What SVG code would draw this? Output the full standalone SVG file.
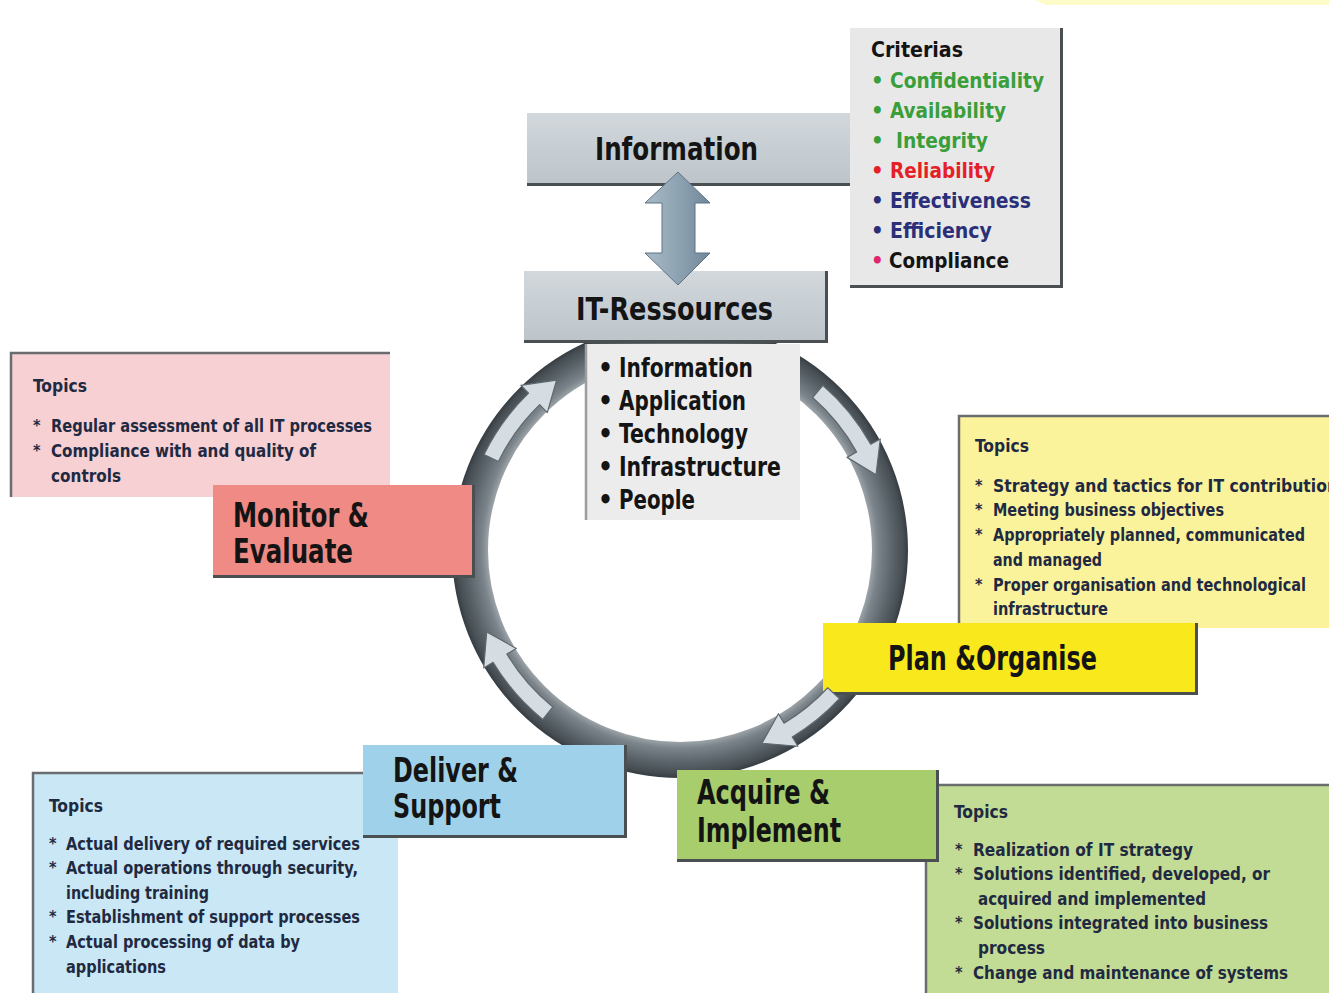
<svg xmlns="http://www.w3.org/2000/svg" xmlns:xlink="http://www.w3.org/1999/xlink" width="1329" height="993" viewBox="0 0 1329 993">
  <style>
    .t { font-family: "DejaVu Sans Condensed", "Liberation Sans Narrow", "DejaVu Sans", sans-serif; font-stretch: condensed; font-weight: bold; }
    .title { font-size: 33px; fill: #141414; }
    .head { font-size: 32px; fill: #141414; }
    .res { font-size: 26px; fill: #141414; }
    .crit { font-size: 22px; }
    .topic { font-size: 17px; fill: #1f2a42; }
    .star { font-size: 16px; fill: #1f2a42; }
    .edge { fill: none; stroke: #4a4f52; }
    .inset { fill: none; stroke: #6a6d70; stroke-width: 2.5; }
    .ringArrow { fill: #d6dde2; stroke: #5e686e; stroke-width: 1.2; stroke-linejoin: round; }
    .green { fill: #3a9e3a; }
    .red { fill: #e51f28; }
    .navy { fill: #2a2f78; }
    .black { fill: #141414; }
  </style>
  <defs>
    <radialGradient id="ringGrad" gradientUnits="userSpaceOnUse" cx="680" cy="550" r="228">
      <stop offset="0.84" stop-color="#9ea6ab"/>
      <stop offset="0.87" stop-color="#7b848a"/>
      <stop offset="0.93" stop-color="#5c656b"/>
      <stop offset="0.98" stop-color="#464e53"/>
      <stop offset="1" stop-color="#363d42"/>
    </radialGradient>
    <linearGradient id="grayBox" x1="0" y1="0" x2="0" y2="1">
      <stop offset="0" stop-color="#d2d8dc"/>
      <stop offset="1" stop-color="#bcc4ca"/>
    </linearGradient>
    <linearGradient id="dblArrow" x1="0" y1="0" x2="1" y2="0">
      <stop offset="0" stop-color="#a9bac6"/>
      <stop offset="0.5" stop-color="#8ea3b2"/>
      <stop offset="1" stop-color="#71889a"/>
    </linearGradient>
    <!-- arc arrows along the cycle, drawn around the origin (0 deg = right, clockwise) -->
    <path id="arc28" d="M218,0 A218,218 0 0 1 204.9,74.6 L215.2,78.3 L185.4,98.6 L179.5,65.3 L189.8,69.1 A202,202 0 0 0 202,0 Z"/>
    <path id="arc24" d="M218,0 A218,218 0 0 1 209.6,60.1 L220.1,63.1 L191.8,85.4 L183.6,52.6 L194.2,55.7 A202,202 0 0 0 202,0 Z"/>
  </defs>

  <rect width="1329" height="993" fill="#ffffff"/>
  <path d="M1035,0 H1329 V5 H1046 Z" fill="#fdfbc8"/>

  <!-- cycle ring -->
  <g id="cycle-ring">
    <circle cx="680" cy="550" r="210" fill="none" stroke="url(#ringGrad)" stroke-width="36"/>
  </g>

  <!-- Information -->
  <g id="information">
    <rect x="527" y="113" width="323" height="73" fill="url(#grayBox)"/>
    <path class="edge" d="M527,184.5 H850" stroke-width="3"/>
    <text class="t head" x="595" y="160" textLength="163" lengthAdjust="spacingAndGlyphs">Information</text>
  </g>

  <!-- Criterias -->
  <g id="criterias">
    <rect x="850" y="28" width="213" height="260" fill="#e8e8e8"/>
    <path class="edge" d="M1061.5,28 V288 M850,286.5 H1063" stroke-width="3"/>
    <text class="t crit black" x="871" y="57" textLength="92" lengthAdjust="spacingAndGlyphs">Criterias</text>
    <text class="t crit green" x="871" y="88">•</text>
    <text class="t crit green" x="890" y="88" textLength="154" lengthAdjust="spacingAndGlyphs">Confidentiality</text>
    <text class="t crit green" x="871" y="118">•</text>
    <text class="t crit green" x="890" y="118" textLength="116" lengthAdjust="spacingAndGlyphs">Availability</text>
    <text class="t crit green" x="871" y="148">•</text>
    <text class="t crit green" x="896" y="148" textLength="92" lengthAdjust="spacingAndGlyphs">Integrity</text>
    <text class="t crit red" x="871" y="178">•</text>
    <text class="t crit red" x="890" y="178" textLength="105" lengthAdjust="spacingAndGlyphs">Reliability</text>
    <text class="t crit navy" x="871" y="208">•</text>
    <text class="t crit navy" x="890" y="208" textLength="141" lengthAdjust="spacingAndGlyphs">Effectiveness</text>
    <text class="t crit navy" x="871" y="238">•</text>
    <text class="t crit navy" x="890" y="238" textLength="102" lengthAdjust="spacingAndGlyphs">Efficiency</text>
    <text class="t crit" x="871" y="268" fill="#e0246e">•</text>
    <text class="t crit black" x="889" y="268" textLength="120" lengthAdjust="spacingAndGlyphs">Compliance</text>
  </g>

  <!-- IT resources -->
  <g id="it-ressources">
    <rect x="524" y="271" width="304" height="72" fill="url(#grayBox)"/>
    <path class="edge" d="M826.5,271 V343 M524,341.5 H828" stroke-width="3"/>
    <text class="t head" x="576" y="320" textLength="197" lengthAdjust="spacingAndGlyphs">IT-Ressources</text>
  </g>

  <g id="resource-list">
    <rect x="585" y="344" width="215" height="176" fill="#ececec"/>
    <path d="M586,344 V520" stroke="#9a9ea1" stroke-width="2.5"/>
    <text class="t res" x="598" y="377">•</text>
    <text class="t res" x="619" y="377" textLength="134" lengthAdjust="spacingAndGlyphs">Information</text>
    <text class="t res" x="598" y="410">•</text>
    <text class="t res" x="619" y="410" textLength="127" lengthAdjust="spacingAndGlyphs">Application</text>
    <text class="t res" x="598" y="443">•</text>
    <text class="t res" x="619" y="443" textLength="129" lengthAdjust="spacingAndGlyphs">Technology</text>
    <text class="t res" x="598" y="476">•</text>
    <text class="t res" x="619" y="476" textLength="162" lengthAdjust="spacingAndGlyphs">Infrastructure</text>
    <text class="t res" x="598" y="509">•</text>
    <text class="t res" x="619" y="509" textLength="76" lengthAdjust="spacingAndGlyphs">People</text>
  </g>

  <!-- Monitor & Evaluate -->
  <g id="monitor-topics">
    <rect x="10" y="352" width="380" height="145" fill="#f6d0d2"/>
    <path class="inset" d="M11,497 V353 H390"/>
    <text class="t topic" x="33" y="392" textLength="54" lengthAdjust="spacingAndGlyphs">Topics</text>
    <text class="t star" x="33" y="431">*</text>
    <text class="t topic" x="51" y="432" textLength="321" lengthAdjust="spacingAndGlyphs">Regular assessment of all IT processes</text>
    <text class="t star" x="33" y="456">*</text>
    <text class="t topic" x="51" y="457" textLength="265" lengthAdjust="spacingAndGlyphs">Compliance with and quality of</text>
    <text class="t topic" x="51" y="482" textLength="70" lengthAdjust="spacingAndGlyphs">controls</text>
  </g>
  <g id="monitor-evaluate">
    <rect x="213" y="485" width="262" height="93" fill="#f08a85"/>
    <path class="edge" d="M473.5,485 V578 M213,576.5 H475" stroke-width="3"/>
    <text class="t title" x="233" y="527" textLength="136" lengthAdjust="spacingAndGlyphs">Monitor &amp;</text>
    <text class="t title" x="233" y="563" textLength="120" lengthAdjust="spacingAndGlyphs">Evaluate</text>
  </g>

  <!-- Plan & Organise -->
  <g id="plan-topics">
    <rect x="958" y="415" width="371" height="213" fill="#fbf29c"/>
    <path class="inset" d="M959,628 V416 H1329"/>
    <text class="t topic" x="975" y="452" textLength="54" lengthAdjust="spacingAndGlyphs">Topics</text>
    <text class="t star" x="975" y="491">*</text>
    <text class="t topic" x="993" y="492" textLength="345" lengthAdjust="spacingAndGlyphs">Strategy and tactics for IT contribution</text>
    <text class="t star" x="975" y="515">*</text>
    <text class="t topic" x="993" y="516" textLength="231" lengthAdjust="spacingAndGlyphs">Meeting business objectives</text>
    <text class="t star" x="975" y="540">*</text>
    <text class="t topic" x="993" y="541" textLength="312" lengthAdjust="spacingAndGlyphs">Appropriately planned, communicated</text>
    <text class="t topic" x="993" y="566" textLength="109" lengthAdjust="spacingAndGlyphs">and managed</text>
    <text class="t star" x="975" y="590">*</text>
    <text class="t topic" x="993" y="591" textLength="313" lengthAdjust="spacingAndGlyphs">Proper organisation and technological</text>
    <text class="t topic" x="993" y="615" textLength="115" lengthAdjust="spacingAndGlyphs">infrastructure</text>
  </g>
  <g id="plan-organise">
    <rect x="823" y="623" width="375" height="72" fill="#f8e81c"/>
    <path class="edge" d="M1196.5,623 V695 M823,693.5 H1198" stroke-width="3"/>
    <text class="t title" x="888" y="670" textLength="209" lengthAdjust="spacingAndGlyphs">Plan &amp;Organise</text>
  </g>

  <!-- Deliver & Support -->
  <g id="deliver-topics">
    <rect x="32" y="772" width="366" height="221" fill="#c9e7f4"/>
    <path class="inset" d="M33,993 V773 H398"/>
    <text class="t topic" x="49" y="812" textLength="54" lengthAdjust="spacingAndGlyphs">Topics</text>
    <text class="t star" x="49" y="849">*</text>
    <text class="t topic" x="66" y="850" textLength="294" lengthAdjust="spacingAndGlyphs">Actual delivery of required services</text>
    <text class="t star" x="49" y="873">*</text>
    <text class="t topic" x="66" y="874" textLength="292" lengthAdjust="spacingAndGlyphs">Actual operations through security,</text>
    <text class="t topic" x="66" y="899" textLength="143" lengthAdjust="spacingAndGlyphs">including training</text>
    <text class="t star" x="49" y="922">*</text>
    <text class="t topic" x="66" y="923" textLength="294" lengthAdjust="spacingAndGlyphs">Establishment of support processes</text>
    <text class="t star" x="49" y="947">*</text>
    <text class="t topic" x="66" y="948" textLength="234" lengthAdjust="spacingAndGlyphs">Actual processing of data by</text>
    <text class="t topic" x="66" y="973" textLength="100" lengthAdjust="spacingAndGlyphs">applications</text>
  </g>
  <g id="deliver-support">
    <rect x="363" y="745" width="264" height="93" fill="#9fd2ea"/>
    <path class="edge" d="M625.5,745 V838 M363,836.5 H627" stroke-width="3"/>
    <text class="t title" x="393" y="782" textLength="125" lengthAdjust="spacingAndGlyphs">Deliver &amp;</text>
    <text class="t title" x="393" y="818" textLength="108" lengthAdjust="spacingAndGlyphs">Support</text>
  </g>

  <!-- Acquire & Implement -->
  <g id="acquire-topics">
    <rect x="925" y="784" width="404" height="209" fill="#c2dc95"/>
    <path class="inset" d="M926,993 V785 H1329"/>
    <text class="t topic" x="954" y="818" textLength="54" lengthAdjust="spacingAndGlyphs">Topics</text>
    <text class="t star" x="955" y="855">*</text>
    <text class="t topic" x="973" y="856" textLength="220" lengthAdjust="spacingAndGlyphs">Realization of IT strategy</text>
    <text class="t star" x="955" y="879">*</text>
    <text class="t topic" x="973" y="880" textLength="297" lengthAdjust="spacingAndGlyphs">Solutions identified, developed, or</text>
    <text class="t topic" x="978" y="905" textLength="228" lengthAdjust="spacingAndGlyphs">acquired and implemented</text>
    <text class="t star" x="955" y="928">*</text>
    <text class="t topic" x="973" y="929" textLength="295" lengthAdjust="spacingAndGlyphs">Solutions integrated into business</text>
    <text class="t topic" x="978" y="954" textLength="67" lengthAdjust="spacingAndGlyphs">process</text>
    <text class="t star" x="955" y="978">*</text>
    <text class="t topic" x="973" y="979" textLength="315" lengthAdjust="spacingAndGlyphs">Change and maintenance of systems</text>
  </g>
  <g id="acquire-implement">
    <rect x="677" y="770" width="262" height="92" fill="#a8cd6c"/>
    <path class="edge" d="M937.5,770 V862 M677,860.5 H939" stroke-width="3"/>
    <text class="t title" x="697" y="804" textLength="133" lengthAdjust="spacingAndGlyphs">Acquire &amp;</text>
    <text class="t title" x="697" y="842" textLength="144" lengthAdjust="spacingAndGlyphs">Implement</text>
  </g>

  <!-- connectors -->
  <g id="connectors">
    <path d="M678,172 L710,203 L695,203 L695,253 L710,253 L678,285 L645,253 L662,253 L662,203 L645,203 Z" fill="url(#dblArrow)" stroke="#5f7383" stroke-width="1"/>
    <use href="#arc28" class="ringArrow" transform="translate(680 550) rotate(206)"/>
    <use href="#arc28" class="ringArrow" transform="translate(680 550) rotate(311)"/>
    <use href="#arc24" class="ringArrow" transform="translate(680 550) rotate(43)"/>
    <use href="#arc28" class="ringArrow" transform="translate(680 550) rotate(129)"/>
  </g>
</svg>
